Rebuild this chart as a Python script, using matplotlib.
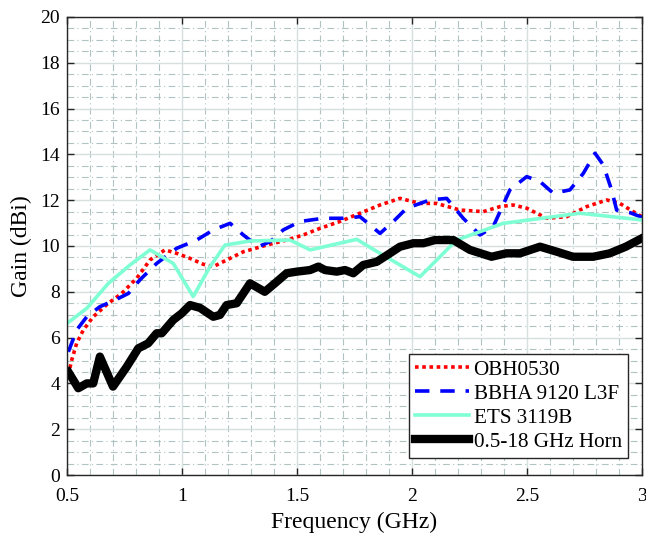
import matplotlib.pyplot as plt
from matplotlib.ticker import MultipleLocator

plt.rcParams['font.family'] = ['Liberation Serif', 'DejaVu Serif']

# OBH0530 (red dotted)
obh_f = [0.506, 0.52, 0.542, 0.571, 0.614, 0.68, 0.738, 0.803, 0.861, 0.926, 0.977,
         1.035, 1.093, 1.136, 1.209, 1.267, 1.296, 1.368, 1.455, 1.527, 1.6, 1.687,
         1.774, 1.861, 1.948, 2.035, 2.107, 2.209, 2.31, 2.383, 2.44, 2.499, 2.586,
         2.673, 2.76, 2.847, 2.904, 2.962, 3.0]
obh_g = [4.37, 5.0, 5.75, 6.33, 6.91, 7.5, 7.93, 8.59, 9.39, 9.83, 9.68,
         9.46, 9.2, 9.1, 9.46, 9.75, 9.83, 10.04, 10.26, 10.48, 10.77, 11.07,
         11.43, 11.79, 12.08, 11.86, 11.86, 11.57, 11.5, 11.72, 11.79, 11.65, 11.21,
         11.28, 11.72, 12.01, 11.86, 11.5, 11.28]

# BBHA 9120 L3F (blue dashed)
bbha_f = [0.506, 0.542, 0.586, 0.643, 0.709, 0.767, 0.817, 0.89, 0.977, 1.064,
          1.136, 1.209, 1.267, 1.332, 1.383, 1.44, 1.513, 1.614, 1.70, 1.774,
          1.817, 1.861, 1.919, 1.977, 2.078, 2.151, 2.223, 2.296, 2.353, 2.426,
          2.499, 2.557, 2.615, 2.687, 2.745, 2.796, 2.832, 2.868, 2.89, 2.95, 3.0]
bbha_g = [5.38, 6.33, 6.91, 7.35, 7.64, 7.93, 8.52, 9.24, 9.9, 10.26,
          10.7, 10.99, 10.48, 9.97, 10.19, 10.7, 11.07, 11.21, 11.21, 11.28,
          10.92, 10.55, 11.07, 11.65, 12.01, 12.08, 11.21, 10.48, 10.84, 12.45,
          13.03, 12.81, 12.3, 12.45, 13.17, 14.05, 13.54, 12.45, 11.57, 11.45, 11.25]

# ETS 3119B (aquamarine solid)
ets_f = [0.5, 0.586, 0.68, 0.774, 0.861, 0.962, 1.049, 1.122, 1.187, 1.296,
         1.47, 1.557, 1.76, 1.861, 2.035, 2.194, 2.397, 2.73, 3.0]
ets_g = [6.62, 7.28, 8.37, 9.17, 9.83, 9.24, 7.79, 9.1, 10.04, 10.22,
         10.26, 9.83, 10.29, 9.68, 8.66, 10.26, 10.99, 11.43, 11.14]

# 0.5-18 GHz Horn (black thick)
horn_f = [0.506, 0.549, 0.586, 0.614, 0.643, 0.70, 0.76, 0.81, 0.853, 0.89, 0.912,
          0.962, 0.999, 1.035, 1.078, 1.136, 1.165, 1.194, 1.238, 1.296, 1.36,
          1.404, 1.455, 1.499, 1.557, 1.593, 1.622, 1.673, 1.709, 1.745, 1.788,
          1.847, 1.904, 1.948, 2.006, 2.05, 2.1, 2.18, 2.252, 2.346, 2.41, 2.47,
          2.557, 2.63, 2.70, 2.788, 2.86, 2.93, 3.0]
horn_g = [4.5, 3.79, 4.0, 4.0, 5.17, 3.86, 4.73, 5.53, 5.75, 6.19, 6.19,
          6.77, 7.06, 7.42, 7.3, 6.91, 6.99, 7.42, 7.5, 8.37, 8.0,
          8.37, 8.81, 8.88, 8.95, 9.1, 8.95, 8.88, 8.95, 8.81, 9.17,
          9.31, 9.68, 9.97, 10.12, 10.12, 10.26, 10.26, 9.83, 9.53, 9.68, 9.68,
          9.97, 9.75, 9.53, 9.53, 9.68, 9.97, 10.34]

fig = plt.figure(figsize=(6.46, 5.36), dpi=100)
ax = fig.add_axes([0.1037, 0.1138, 0.89, 0.8545])

ax.plot(obh_f, obh_g, color='red', linestyle=(0, (1, 1)), linewidth=2.6, label='OBH0530')
ax.plot(bbha_f, bbha_g, color='blue', linestyle=(0, (4, 3)), linewidth=2.6, label='BBHA 9120 L3F')
ax.plot(ets_f, ets_g, color='#7fffd4', linewidth=2.6, label='ETS 3119B')
ax.plot(horn_f, horn_g, color='black', linewidth=6, label='0.5-18 GHz Horn')

ax.set_xlim(0.5, 3)
ax.set_ylim(0, 20)
ax.xaxis.set_minor_locator(MultipleLocator(0.1))
ax.yaxis.set_major_locator(MultipleLocator(2))
ax.yaxis.set_minor_locator(MultipleLocator(0.5))
ax.set_xticks([0.5, 1, 1.5, 2, 2.5, 3])
ax.set_xticklabels(['0.5', '1', '1.5', '2', '2.5', '3'])

ax.grid(which='major', color='#d6e0e0', linewidth=1.0, linestyle='-')
ax.grid(which='minor', color='#b0c2c2', linewidth=0.8, linestyle=(0, (6, 3, 1, 3)))
ax.set_axisbelow(True)

ax.tick_params(which='major', direction='in', top=True, right=True, length=5,
               labelsize=14, width=1, color='#262626')
ax.tick_params(axis='x', which='major', pad=9)
ax.tick_params(axis='y', which='major', pad=5)
ax.tick_params(which='minor', length=0)
for s in ax.spines.values():
    s.set_color('#262626')
    s.set_linewidth(1)

ax.set_xlabel('Frequency (GHz)', fontsize=17, labelpad=5)
ax.set_ylabel('Gain (dBi)', fontsize=17, labelpad=6)

leg = ax.legend(loc='lower right', bbox_to_anchor=(0.9757, 0.037), fontsize=15.2,
                fancybox=False, framealpha=1, edgecolor='#262626',
                handlelength=2.55, handletextpad=0.2, borderpad=0.3, labelspacing=0.2,
                borderaxespad=0)
leg.get_frame().set_linewidth(1)

fig.savefig('out.png', dpi=100)
